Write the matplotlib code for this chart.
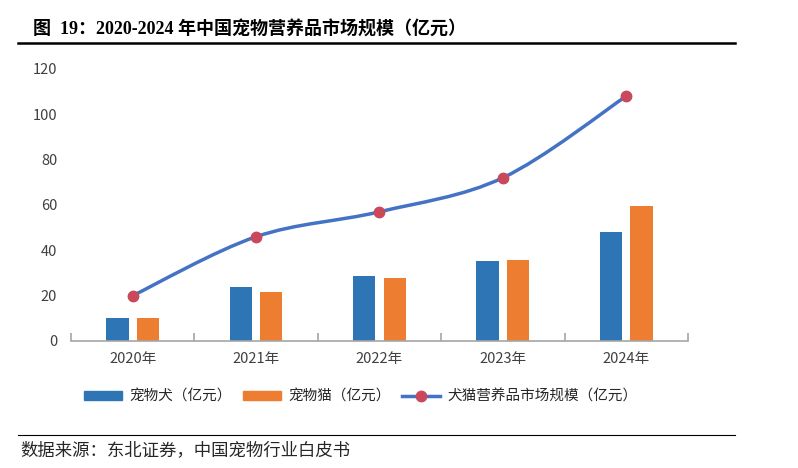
import matplotlib
matplotlib.use('Agg')

import matplotlib.pyplot as plt
import numpy as np
from matplotlib.path import Path
from matplotlib.patches import PathPatch
from matplotlib.lines import Line2D
from matplotlib.patches import Patch

plt.rcParams['font.family'] = ['Noto Sans CJK SC', 'DejaVu Sans']

years = ['2020年', '2021年', '2022年', '2023年', '2024年']
dog = [10, 23.7, 28.6, 35.4, 48]
cat = [10, 21.4, 28, 35.8, 59.6]
total = [20, 46, 57, 72, 108]

title = '图  19：2020-2024 年中国宠物营养品市场规模（亿元）'
source = '数据来源：东北证券，中国宠物行业白皮书'
labels = ['宠物犬（亿元）', '宠物猫（亿元）', '犬猫营养品市场规模（亿元）']

c_dog = '#2e75b6'
c_cat = '#ed7d31'
c_line = '#4472c4'
c_mark = '#c9485b'


def smooth_path(xs, ys):
    # bezier segments through the points (catmull-rom style, like excel smoothing)
    pts = np.column_stack([xs, ys]).astype(float)
    verts = [pts[0]]
    codes = [Path.MOVETO]
    n = len(pts)
    for i in range(n - 1):
        p0 = pts[i - 1] if i > 0 else pts[i]
        p1 = pts[i]
        p2 = pts[i + 1]
        p3 = pts[i + 2] if i + 2 < n else pts[i + 1]
        verts += [p1 + (p2 - p0) / 6, p2 - (p3 - p1) / 6, p2]
        codes += [Path.CURVE4] * 3
    return Path(verts, codes)


def main():
    fig = plt.figure(figsize=(7.98, 4.68), dpi=100)
    ax = fig.add_axes([0.089, 0.2714, 0.773, 0.5812])

    x = np.arange(len(years))
    w = 0.18
    off = 0.124
    ax.bar(x - off, dog, w, color=c_dog, zorder=2)
    ax.bar(x + off, cat, w, color=c_cat, zorder=2)

    ax.add_patch(PathPatch(smooth_path(x, total), facecolor='none',
                           edgecolor=c_line, lw=2.5, zorder=3, capstyle='round'))
    ax.plot(x, total, ls='none', marker='o', ms=7.5, color=c_mark, zorder=4)

    ax.set_xlim(-0.5, len(years) - 0.5)
    ax.set_ylim(0, 120)
    ax.set_yticks(range(0, 121, 20))
    ax.set_xticks(x)
    ax.set_xticklabels(years)
    ax.set_xticks(np.arange(-0.5, len(years), 1), minor=True)

    for s in ['top', 'right', 'left']:
        ax.spines[s].set_visible(False)
    ax.spines['bottom'].set_color('#a6a6a6')
    ax.spines['bottom'].set_linewidth(1.2)
    ax.tick_params(axis='x', which='major', length=0, pad=8, labelsize=10.5, labelcolor='#404040')
    ax.tick_params(axis='x', which='minor', direction='in', length=6, color='#a6a6a6', width=1.2)
    ax.tick_params(axis='y', length=0, pad=10, labelsize=10.5, labelcolor='#404040')

    handles = [Patch(color=c_dog), Patch(color=c_cat),
               Line2D([], [], color=c_line, lw=2.5, marker='o', ms=7.5, mfc=c_mark, mec=c_mark)]
    fig.legend(handles, labels, loc='center', bbox_to_anchor=(0.452, 0.152), ncol=3,
               frameon=False, fontsize=10.5, handlelength=2.6, handleheight=0.6,
               columnspacing=0.8, handletextpad=0.5, labelcolor='#262626')

    fig.text(0.041, 0.936, title, fontsize=13, fontweight='bold',
             family=['Liberation Serif', 'Noto Sans CJK SC'], va='center', ha='left')
    fig.add_artist(Line2D([0.023, 0.921], [0.908, 0.908], color='black', lw=1.8))
    fig.add_artist(Line2D([0.023, 0.921], [0.071, 0.071], color='black', lw=0.8))
    fig.text(0.025, 0.038, source, fontsize=12.5, va='center', ha='left', color='#262626')

    fig.savefig('out.png', dpi=100)


if __name__ == '__main__':
    main()
